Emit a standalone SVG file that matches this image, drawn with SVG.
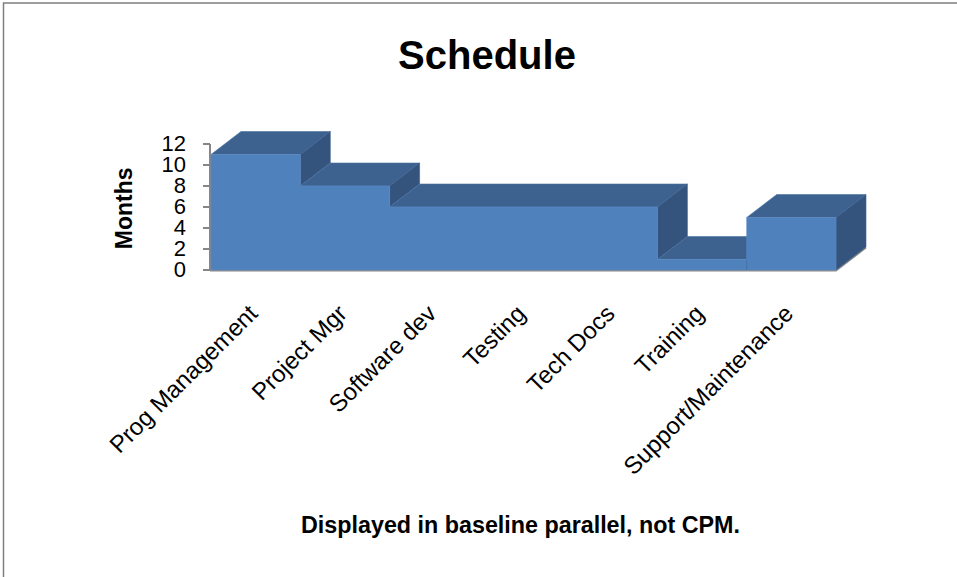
<svg xmlns="http://www.w3.org/2000/svg" width="957" height="577" viewBox="0 0 957 577">
<style>
.front{fill:#4F81BD;stroke:#5B8CC6;stroke-width:0.6}
.top{fill:#3D628F;stroke:#4A72A3;stroke-width:0.6}
.side{fill:#34537D;stroke:#3F6290;stroke-width:0.6}
.axis{stroke:#868686;stroke-width:2;fill:none}
.tick{font-family:"Liberation Sans",Arial,sans-serif;font-size:22px;fill:#000;text-anchor:end}
.cat{font-family:"Liberation Sans",Arial,sans-serif;font-size:24px;fill:#000;text-anchor:end}
.bold{font-family:"Liberation Sans",Arial,sans-serif;font-weight:bold;fill:#000;text-anchor:middle}
</style>
<rect x="0" y="0" width="957" height="577" fill="#ffffff"/>
<rect x="3.5" y="3" width="1000" height="1000" fill="none" stroke="#7f7f7f" stroke-width="1.5"/>
<text class="bold" x="487" y="69" font-size="40">Schedule</text>
<g id="axis">
<path class="axis" d="M210,144 V271 M203,144 H210 M203,165 H210 M203,186 H210 M203,207 H210 M203,228 H210 M203,249 H210 M203,270 H210"/>
<path d="M210,270.5 H836 L866,247.5" stroke="#8a8a8a" stroke-width="2" fill="none"/>
<text class="tick" x="186" y="151">12</text>
<text class="tick" x="186" y="172">10</text>
<text class="tick" x="186" y="193">8</text>
<text class="tick" x="186" y="214">6</text>
<text class="tick" x="186" y="235">4</text>
<text class="tick" x="186" y="256">2</text>
<text class="tick" x="186" y="277">0</text>
<text class="bold" font-size="23" transform="translate(131.5,208.3) rotate(-90)">Months</text>
</g>
<g id="area">
<polygon class="top" points="211,154.5 300.3,154.5 330.3,131.5 241,131.5"/>
<polygon class="side" points="300.3,154.5 330.3,131.5 330.3,163 300.3,186"/>
<polygon class="top" points="300.3,186 389.6,186 419.6,163 330.3,163"/>
<polygon class="side" points="389.6,186 419.6,163 419.6,184 389.6,207"/>
<polygon class="top" points="389.6,207 657.4,207 687.4,184 419.6,184"/>
<polygon class="side" points="657.4,207 687.4,184 687.4,236.5 657.4,259.5"/>
<polygon class="top" points="657.4,259.5 746.7,259.5 776.7,236.5 687.4,236.5"/>
<polygon class="top" points="746.7,217.5 836,217.5 866,194.5 776.7,194.5"/>
<polygon class="side" points="836,217.5 866,194.5 866,247 836,270"/>
<path class="front" d="M211,270 V154.5 H300.3 V186 H389.6 V207 H657.4 V259.5 H746.7 V217.5 H836 V270 Z"/>
<line x1="746.7" y1="259.5" x2="746.7" y2="270" stroke="#466FA3" stroke-width="0.8"/>
</g>
<g id="labels">
<text class="cat" transform="translate(259,315) rotate(-45)">Prog Management</text>
<text class="cat" transform="translate(348.4,315) rotate(-45)">Project Mgr</text>
<text class="cat" transform="translate(437.7,315) rotate(-45)">Software dev</text>
<text class="cat" transform="translate(527,315) rotate(-45)">Testing</text>
<text class="cat" transform="translate(616.2,315) rotate(-45)">Tech Docs</text>
<text class="cat" transform="translate(705.5,315) rotate(-45)">Training</text>
<text class="cat" transform="translate(794.8,315) rotate(-45)">Support/Maintenance</text>
</g>
<text class="bold" x="520.5" y="533" font-size="23.3">Displayed in baseline parallel, not CPM.</text>
</svg>
